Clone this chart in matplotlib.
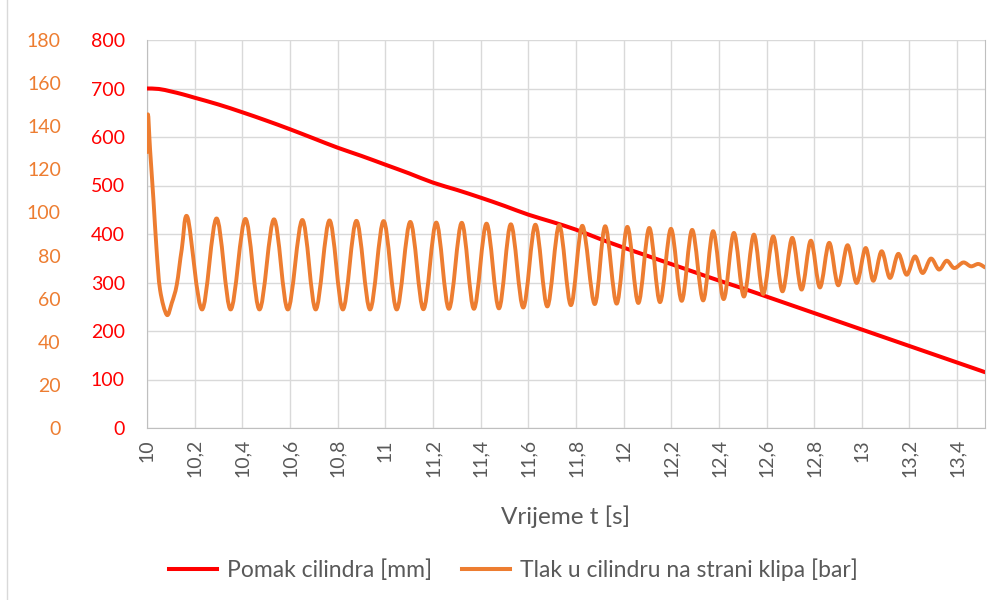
import numpy as np
import matplotlib
matplotlib.use("Agg")
import matplotlib.pyplot as plt
from matplotlib.path import Path
from matplotlib.patches import PathPatch, Rectangle
from matplotlib.lines import Line2D
from matplotlib.ticker import MultipleLocator, FuncFormatter

plt.rcParams['font.family'] = ['Lato', 'DejaVu Sans']

# pomak cilindra [mm]
t_pomak = [10.0, 10.05, 10.1, 10.15, 10.2, 10.3, 10.4, 10.5, 10.6, 10.7, 10.8, 10.9,
           11.0, 11.1, 11.2, 11.3, 11.4, 11.5, 11.6, 11.7, 11.8, 11.9,
           12.0, 12.1, 12.2, 12.3, 12.4, 12.5, 12.6, 12.7, 12.8, 12.9,
           13.0, 13.1, 13.2, 13.3, 13.4, 13.5, 13.517]
pomak = [700, 699, 694, 688, 681, 667, 651, 634, 616, 597, 578, 561,
         543, 525, 506, 491, 475, 458, 440, 425, 409, 390,
         372, 355, 338, 321, 304, 288, 271, 254, 237, 220,
         203, 186, 169, 152, 135, 118, 115]

# tlak [bar]: start transient, then alternating troughs / peaks
t_tlak = [10.000, 10.004, 10.013, 10.027, 10.040, 10.055, 10.083, 10.104, 10.125, 10.146, 10.171,
          10.231, 10.292, 10.351, 10.413, 10.472, 10.533, 10.591, 10.652, 10.708, 10.766,
          10.822, 10.879, 10.936, 10.993, 11.048, 11.105, 11.160, 11.214, 11.267, 11.321,
          11.372, 11.425, 11.477, 11.527, 11.579, 11.630, 11.680, 11.730, 11.779, 11.827,
          11.879, 11.923, 11.971, 12.016, 12.062, 12.108, 12.153, 12.199, 12.244, 12.288,
          12.334, 12.376, 12.420, 12.463, 12.505, 12.547, 12.586, 12.628, 12.667, 12.708,
          12.747, 12.786, 12.824, 12.863, 12.901, 12.940, 12.978, 13.016, 13.048, 13.083,
          13.118, 13.153, 13.188, 13.223, 13.255, 13.290, 13.324, 13.356, 13.388, 13.426,
          13.458, 13.489, 13.517]
tlak = [128, 145.5, 129, 106, 83, 64, 52.5, 58, 66.5, 83, 97.5,
        55, 97.2, 55, 97, 55, 96.8, 55, 96.5, 55, 96.3,
        55, 96.1, 55, 96, 55, 95.6, 55.1, 95.3, 55.3, 95.2,
        55.3, 94.8, 55.5, 94.5, 55.9, 94.3, 56.4, 94.1, 57.0, 93.8,
        57.5, 93.6, 57.7, 93.3, 58.0, 92.8, 58.4, 92.4, 59.0, 91.9,
        59.2, 91.3, 59.8, 90.5, 61.0, 89.7, 62.2, 88.9, 63.4, 88.2,
        64.2, 86.9, 65.2, 85.9, 66.2, 84.8, 67.3, 83.5, 68.3, 82.0,
        69.6, 80.8, 71.1, 79.6, 71.9, 78.6, 73.5, 77.6, 74.2, 76.8,
        75.0, 76.1, 74.5]

RED = '#FF0000'
ORANGE = '#ED7D31'
GRAY = '#595959'
GRID = '#D9D9D9'


def smooth_path(xs, ys):
    # Excel-like "smoothed line": Catmull-Rom segments drawn as cubic Beziers
    p = np.column_stack([xs, ys]).astype(float)
    n = len(p)
    verts = [p[0]]
    codes = [Path.MOVETO]
    for i in range(n - 1):
        p0 = p[max(i - 1, 0)]
        p1 = p[i]
        p2 = p[i + 1]
        p3 = p[min(i + 2, n - 1)]
        verts += [p1 + (p2 - p0) / 6.0, p2 - (p3 - p1) / 6.0, p2]
        codes += [Path.CURVE4] * 3
    return Path(verts, codes)


fig = plt.figure(figsize=(9.99, 6.0), dpi=100)
ax = fig.add_axes([147/999, 172/600, 838/999, 388/600])
ax2 = ax.twinx()

ax.add_patch(PathPatch(smooth_path(t_pomak, pomak), fill=False, ec=RED, lw=2.9,
                       capstyle='round', joinstyle='round', zorder=3))
ax2.add_patch(PathPatch(smooth_path(t_tlak, tlak), fill=False, ec=ORANGE, lw=2.8,
                        capstyle='round', joinstyle='round'))

ax.set_xlim(10, 13.517)
ax.set_ylim(0, 800)
ax2.set_ylim(0, 180)

ax.xaxis.set_major_locator(MultipleLocator(0.2))
ax.xaxis.set_major_formatter(FuncFormatter(lambda v, pos: ('%g' % round(v, 1)).replace('.', ',')))
ax.yaxis.set_major_locator(MultipleLocator(100))
ax2.yaxis.set_major_locator(MultipleLocator(20))

ax.grid(True, color=GRID, lw=1.0)
ax.set_axisbelow(True)

for a in (ax, ax2):
    for s in a.spines.values():
        s.set_visible(False)
ax.spines['left'].set_visible(True)
ax.spines['left'].set_color('#BFBFBF')
ax.spines['bottom'].set_visible(True)
ax.spines['bottom'].set_color('#BFBFBF')
ax2.spines['right'].set_visible(True)
ax2.spines['right'].set_color('#BFBFBF')

ax.tick_params(axis='x', length=0, pad=8, labelsize=14, labelcolor=GRAY, labelrotation=90)
ax.tick_params(axis='y', length=0, pad=16, labelsize=14, labelcolor=RED)

ax2.yaxis.set_ticks_position('left')
ax2.spines['left'].set_position(('outward', 46))
ax2.tick_params(axis='y', length=0, pad=16, labelsize=14, labelcolor=ORANGE,
                left=False, right=False, labelleft=True, labelright=False)

ax.set_xlabel('Vrijeme t [s]', fontsize=17.5, color=GRAY, labelpad=20)

handles = [Line2D([], [], color=RED, lw=2.9),
           Line2D([], [], color=ORANGE, lw=2.9)]
fig.legend(handles, ['Pomak cilindra [mm]', 'Tlak u cilindru na strani klipa [bar]'],
           loc='center', bbox_to_anchor=(0.514, 0.05), ncol=2, frameon=False,
           fontsize=16.5, labelcolor=GRAY, handlelength=2.1, handletextpad=0.45,
           columnspacing=1.3)

fig.add_artist(Rectangle((7/999, -0.01), 1.0, 1.02, transform=fig.transFigure,
                         fill=False, ec=GRID, lw=1.0))

fig.savefig('out.png', dpi=100)
